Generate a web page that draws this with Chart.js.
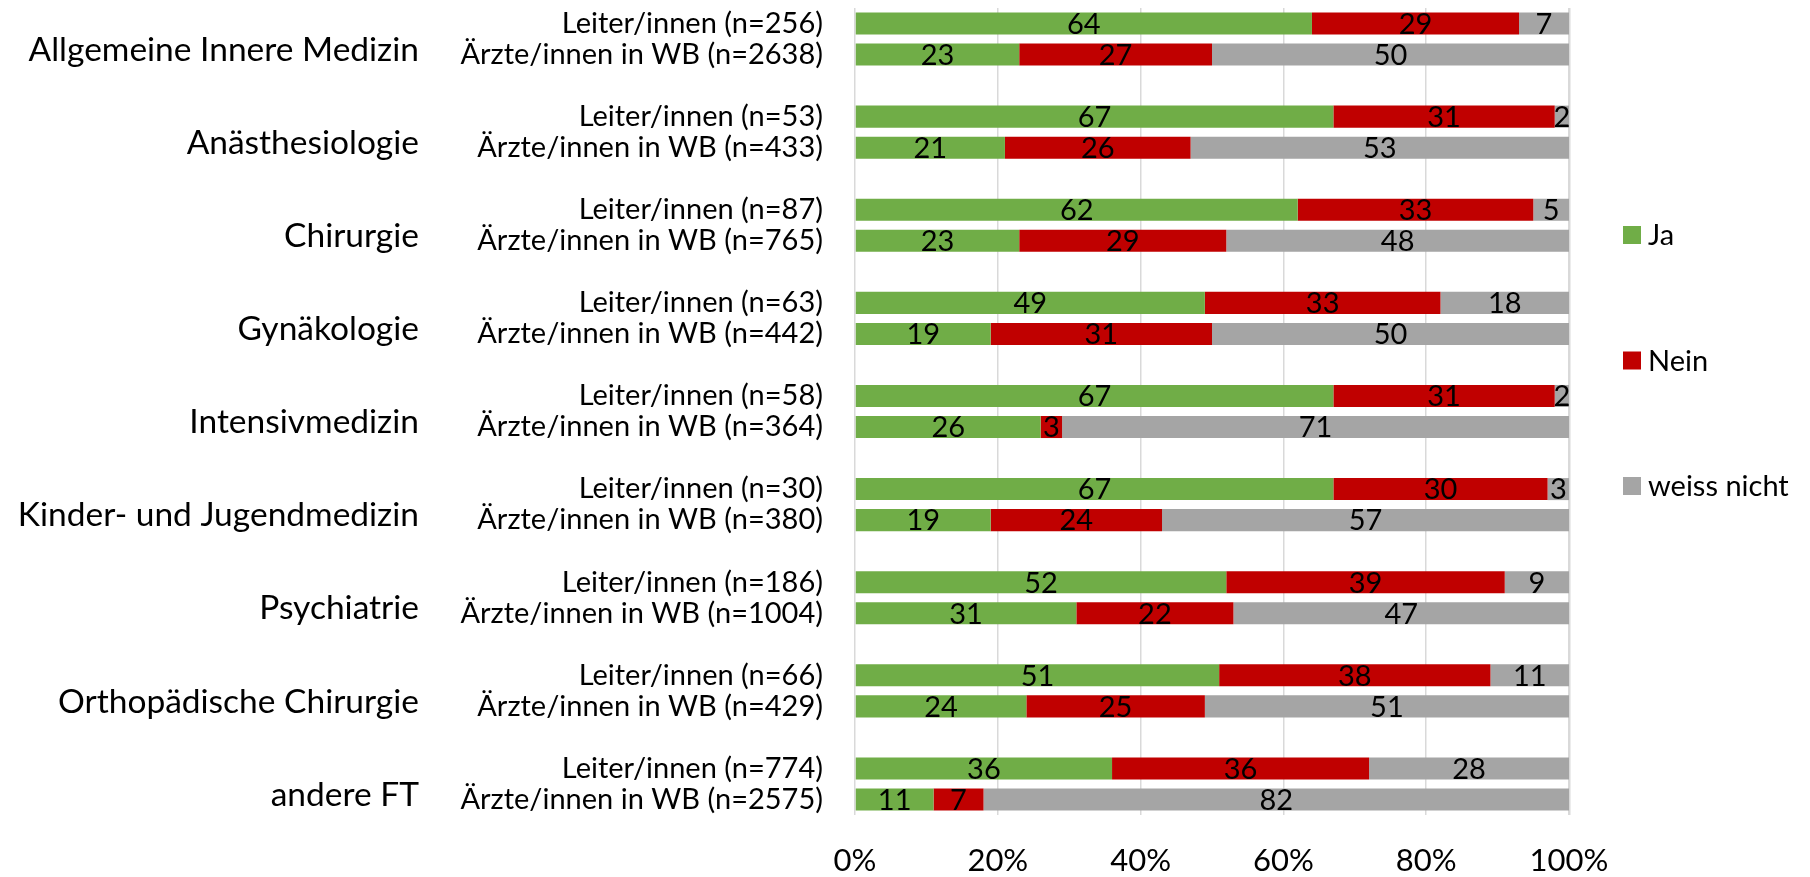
<!DOCTYPE html>
<html>
<head>
<meta charset="utf-8">
<script src="https://cdn.jsdelivr.net/npm/chart.js@4"></script>
<style>
  html, body { margin: 0; padding: 0; background: #fff; }
</style>
</head>
<body>
<canvas id="chart" width="1810" height="877"></canvas>
<script>
// Fachgebiete und Stichprobengrössen
const fachgebiete = ['Allgemeine Innere Medizin', 'Anästhesiologie', 'Chirurgie', 'Gynäkologie',
  'Intensivmedizin', 'Kinder- und Jugendmedizin', 'Psychiatrie', 'Orthopädische Chirurgie', 'andere FT'];
const nLeiter = [256, 53, 87, 63, 58, 30, 186, 66, 774];
const nWB = [2638, 433, 765, 442, 364, 380, 1004, 429, 2575];

// Antworten in % (Leiter/innen bzw. Ärzte/innen in WB)
const jaLeiter = [64, 67, 62, 49, 67, 67, 52, 51, 36];
const neinLeiter = [29, 31, 33, 33, 31, 30, 39, 38, 36];
const wnLeiter = [7, 2, 5, 18, 2, 3, 9, 11, 28];
const jaWB = [23, 21, 23, 19, 26, 19, 31, 24, 11];
const neinWB = [27, 26, 29, 31, 3, 24, 22, 25, 7];
const wnWB = [50, 53, 48, 50, 71, 57, 47, 51, 82];

const xTicks = [0, 20, 40, 60, 80, 100];

const FONT = 'Lato';

// one row per bar, with an empty row between the Fachgebiete
function rows(a, b) {
  const out = [];
  fachgebiete.forEach((_, g) => {
    out.push(a[g], b[g]);
    if (g < fachgebiete.length - 1) out.push(null);
  });
  return out;
}
const rowLabels = [];
fachgebiete.forEach((_, g) => {
  rowLabels.push(`Leiter/innen (n=${nLeiter[g]})`, `Ärzte/innen in WB (n=${nWB[g]})`);
  if (g < fachgebiete.length - 1) rowLabels.push('');
});
// group label sits just above the second row of each pair
const groupTicks = fachgebiete.map((_, g) => 3 * g + 0.85);

// value written in the middle of every segment
const segmentLabels = {
  id: 'segmentLabels',
  afterDatasetsDraw(chart) {
    const ctx = chart.ctx;
    ctx.save();
    ctx.font = `29px ${FONT}`;
    ctx.fillStyle = '#000';
    ctx.textAlign = 'center';
    ctx.textBaseline = 'middle';
    chart.data.datasets.forEach((ds, di) => {
      chart.getDatasetMeta(di).data.forEach((bar, i) => {
        const v = ds.data[i];
        if (v == null) return;
        ctx.fillText(String(v), (bar.x + bar.base) / 2, bar.y + 1);
      });
    });
    ctx.restore();
  }
};

// legend on the right, items spread out like in the Excel original
const sideLegend = {
  id: 'sideLegend',
  afterDraw(chart) {
    const ctx = chart.ctx;
    const x = chart.chartArea.right + 54;
    ctx.save();
    ctx.font = `29px ${FONT}`;
    ctx.textBaseline = 'middle';
    chart.data.datasets.forEach((ds, i) => {
      const y = 235 + i * 125.5;
      ctx.fillStyle = ds.backgroundColor;
      ctx.fillRect(x, y - 9, 18, 18);
      ctx.fillStyle = '#000';
      ctx.fillText(ds.label, x + 25, y + 1);
    });
    ctx.restore();
  }
};

const barOpts = { barPercentage: 0.71, categoryPercentage: 1, borderWidth: 0 };

new Chart(document.getElementById('chart'), {
  type: 'bar',
  data: {
    labels: rowLabels,
    datasets: [
      { label: 'Ja', data: rows(jaLeiter, jaWB), backgroundColor: '#70AD47', ...barOpts },
      { label: 'Nein', data: rows(neinLeiter, neinWB), backgroundColor: '#C00000', ...barOpts },
      { label: 'weiss nicht', data: rows(wnLeiter, wnWB), backgroundColor: '#A5A5A5', ...barOpts }
    ]
  },
  options: {
    indexAxis: 'y',
    responsive: false,
    animation: false,
    devicePixelRatio: 1,
    layout: { padding: { top: 8, right: 241, bottom: 0, left: 0 } },
    plugins: {
      legend: { display: false },
      tooltip: { enabled: false }
    },
    scales: {
      x: {
        stacked: true,
        min: 0,
        max: 100,
        afterBuildTicks: (s) => { s.ticks = xTicks.map(v => ({ value: v })); },
        grid: {
          color: '#D9D9D9',
          lineWidth: (c) => (c.tick && c.tick.value === 100 ? 2.5 : 1.5),
          drawTicks: false
        },
        border: { display: false },
        ticks: {
          color: '#000',
          padding: 30,
          font: { family: FONT, size: 31, lineHeight: 1 },
          callback: (v) => v + '%'
        },
        afterFit: (s) => { s.height = 62; }
      },
      y: {
        type: 'category',
        stacked: true,
        position: 'left',
        weight: 0,
        grid: { display: false, drawTicks: false },
        border: { display: false },
        ticks: { autoSkip: false, color: '#000', padding: 32, font: { family: FONT, size: 29 } },
        afterFit: (s) => { s.width = 415; s.paddingTop = 0; s.paddingBottom = 0; }
      },
      yGroup: {
        type: 'linear',
        position: 'left',
        weight: 1,
        reverse: true,
        offset: false,
        min: -0.5,
        max: rowLabels.length - 0.5,
        afterBuildTicks: (s) => { s.ticks = groupTicks.map(v => ({ value: v })); },
        grid: { display: false, drawTicks: false },
        border: { display: false },
        ticks: {
          autoSkip: false,
          color: '#000',
          padding: 21,
          font: { family: FONT, size: 33.5 },
          callback: (v, i) => fachgebiete[i]
        },
        afterFit: (s) => { s.width = 440; s.paddingTop = 0; s.paddingBottom = 0; }
      }
    }
  },
  plugins: [segmentLabels, sideLegend]
});
</script>
</body>
</html>
